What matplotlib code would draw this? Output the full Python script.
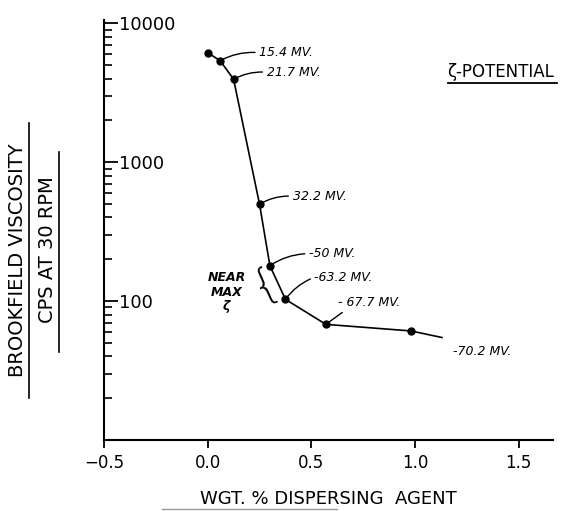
## -*- coding: utf-8 -*-

import numpy as np
import matplotlib
matplotlib.use('Agg')
import matplotlib.pyplot as plt
from matplotlib.lines import Line2D

## Data
wgt_pct = [0.0, 0.06, 0.125, 0.25, 0.30, 0.375, 0.57, 0.98]
viscosity = [6140, 5380, 3955, 499, 180, 103, 68, 61]
tail_x = [0.98, 1.13]
tail_y = [61, 54.7]
zeta_labels = [None, '15.4 MV.', '21.7 MV.', '32.2 MV.', '-50 MV.', '-63.2 MV.', '- 67.7 MV.', '-70.2 MV.']
y_ticks = [10000, 1000, 100]
y_ticklabels = ['10000', '1000', '100']
x_ticks = [-0.5, 0.0, 0.5, 1.0, 1.5]
x_ticklabels = ['\u22120.5', '0.0', '0.5', '1.0', '1.5']

if __name__ == '__main__':
    plt.rcParams['font.family'] = ['DejaVu Sans']

    fig = plt.figure(figsize=(5.62, 5.11), dpi=100)
    ax = fig.add_axes([0.1851, 0.1389, 0.799, 0.822])

    ax.plot(wgt_pct, viscosity, color='black', lw=1.2, marker='o', ms=5)
    ax.plot(tail_x, tail_y, color='black', lw=1.2)

    ax.set_yscale('log')
    ax.set_xlim(-0.5, 1.666)
    ax.set_ylim(10, 10560)

    for side in ('top', 'right'):
        ax.spines[side].set_visible(False)
    for side in ('left', 'bottom'):
        ax.spines[side].set_linewidth(1.5)

    ## y ticks: inward, labels inside the plot
    ax.set_yticks(y_ticks)
    ax.set_yticklabels(y_ticklabels)
    ax.tick_params(axis='y', which='major', direction='in', length=10, width=1.3,
                   labelsize=13, pad=-11)
    ax.tick_params(axis='y', which='minor', direction='in', length=6, width=1.2)
    for lab in ax.get_yticklabels():
        lab.set_horizontalalignment('left')

    ax.set_xticks(x_ticks)
    ax.set_xticklabels(x_ticklabels)
    ax.tick_params(axis='x', direction='out', length=6, width=1.3, labelsize=12, pad=4)

    ## zeta potential labels with leader lines
    offsets = [None, (39, 8), (33, 7), (33, 8), (39, 12), (29, 22), (12, 22), (42, -21)]
    for i, lab in enumerate(zeta_labels):
        if lab is None:
            continue
        dx, dy = offsets[i]
        if i == len(zeta_labels) - 1:
            ax.annotate(lab, xy=(wgt_pct[i], viscosity[i]), xytext=(dx, dy),
                        textcoords='offset pixels', ha='left', va='center',
                        fontsize=9, style='italic')
            continue
        relpos = (0.15, 0.0) if i == 6 else (0.0, 0.5)
        rad = 0.0 if i == 6 else 0.15
        ax.annotate(lab, xy=(wgt_pct[i], viscosity[i]), xytext=(dx, dy),
                    textcoords='offset pixels', ha='left', va='center',
                    fontsize=9, style='italic',
                    arrowprops=dict(arrowstyle='-', lw=1.0, color='black',
                                    connectionstyle='arc3,rad=%g' % rad,
                                    shrinkA=1, shrinkB=0, relpos=relpos))

    ## brace and "near max zeta" note
    mid_x = (wgt_pct[4] + wgt_pct[5]) / 2
    mid_y = np.sqrt(viscosity[4] * viscosity[5])
    ax.annotate('{', xy=(mid_x, mid_y), xytext=(-12, -1), textcoords='offset pixels',
                ha='center', va='center', fontsize=30, rotation=24, fontweight='light')
    ax.annotate('NEAR\nMAX\n\u03b6', xy=(mid_x, mid_y), xytext=(-51, -10),
                textcoords='offset pixels', ha='center', va='center',
                fontsize=9, style='italic', fontweight='bold', linespacing=1.15)

    ## axis titles, drawn as underlined figure text
    fig.text(0.031, 0.491, 'BROOKFIELD VISCOSITY', rotation=90, ha='center', va='center',
             fontsize=14)
    fig.text(0.084, 0.511, 'CPS AT 30 RPM', rotation=90, ha='center', va='center',
             fontsize=14)
    fig.add_artist(Line2D([0.0516, 0.0516], [0.221, 0.759], color='black', lw=1.2))
    fig.add_artist(Line2D([0.105, 0.105], [0.311, 0.703], color='black', lw=1.2))

    fig.text(0.584, 0.024, 'WGT. % DISPERSING  AGENT', ha='center', va='center', fontsize=13)
    fig.add_artist(Line2D([0.288, 0.60], [0.004, 0.004], color='0.6', lw=1.0))

    fig.text(0.89, 0.859, '\u03b6-POTENTIAL', ha='center', va='center', fontsize=12)
    fig.add_artist(Line2D([0.797, 0.991], [0.838, 0.838], color='black', lw=1.3))

    fig.savefig('out.png', dpi=100)
